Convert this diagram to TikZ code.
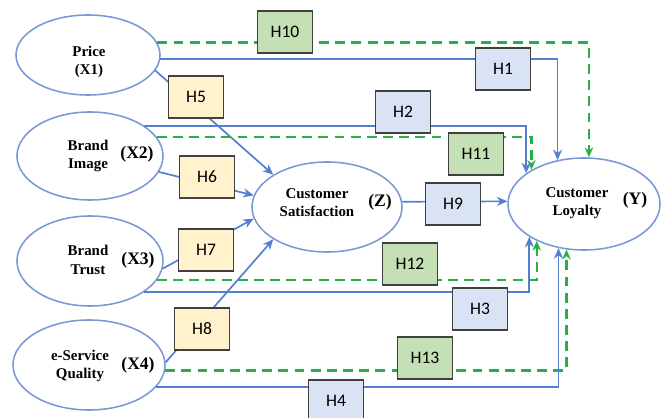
\documentclass[tikz,border=0pt]{standalone}
\usepackage{fontspec}
\setmainfont{Liberation Serif}
\newfontfamily\hypfont{Carlito}
\usetikzlibrary{shapes.geometric,arrows.meta}
\definecolor{ovalblue}{RGB}{120,152,214}
\definecolor{linkblue}{RGB}{84,127,208}
\definecolor{medgreen}{RGB}{38,176,72}
\definecolor{hypyellow}{RGB}{255,242,204}
\definecolor{hypblue}{RGB}{218,227,243}
\definecolor{hypgreen}{RGB}{197,224,180}
\definecolor{boxgray}{RGB}{64,64,64}
\tikzset{
  construct/.style={ellipse,draw=ovalblue,line width=1.1pt,inner sep=0pt},
  vname/.style={font=\bfseries\fontsize{10.6}{13}\selectfont,align=center,inner sep=0pt},
  vcode/.style={font=\bfseries\fontsize{12.5}{14}\selectfont,inner sep=0pt},
  hyp/.style={draw=boxgray,line width=1.1pt,minimum width=1.375cm,minimum height=1.05cm,
    font=\hypfont\fontsize{12.5}{14}\selectfont},
  direct/.style={draw=linkblue,line width=1.2pt,-{Stealth[length=7.5pt,width=6.5pt]}},
  mediated/.style={draw=medgreen,line width=1.8pt,dash pattern=on 7pt off 4.5pt,
    -{Stealth[length=7pt,width=6pt]}},
}
\begin{document}
\begin{tikzpicture}[x=0.025cm,y=-0.025cm]
        \useasboundingbox (0,0) rectangle (664,418);
        % variables
        \node[construct,minimum width=3.6cm,minimum height=2cm] (price) at (88,55) {};
        \node[construct,minimum width=3.65cm,minimum height=2.2cm] (image) at (90,156) {};
        \node[construct,minimum width=3.65cm,minimum height=2.25cm] (trust) at (90,261) {};
        \node[construct,minimum width=3.8cm,minimum height=2.25cm] (eserv) at (89,365) {};
        \node[construct,minimum width=3.75cm,minimum height=2.25cm] (satisf) at (327,207) {};
        \node[construct,minimum width=3.8cm,minimum height=2.3cm] (loyalty) at (584,204) {};
        \node[vname] (pricetxt) at (89,62) {Price\\(X1)};
        \node[vname] (imagetxt) at (88,156) {Brand\\Image};
        \node[vcode] (imagecode) at (137,154) {(X2)};
        \node[vname] (trusttxt) at (88,260) {Brand\\Trust};
        \node[vcode] (trustcode) at (138,260) {(X3)};
        \node[vname] (eservtxt) at (80,366) {e-Service\\Quality};
        \node[vcode] (eservcode) at (138,365) {(X4)};
        \node[vname] (satisftxt) at (317,203) {Customer\\Satisfaction};
        \node[vcode] (satisfcode) at (380,202) {(Z)};
        \node[vname] (loyaltytxt) at (577,203) {Customer\\Loyalty};
        \node[vcode] (loyaltycode) at (635,200) {(Y)};
        % paths
        \draw[mediated] (price.10) -| (loyalty.84);
        \draw[direct] (price.-3) -| (loyalty.121);
        \draw[direct] (price.-13) -- (satisf.149);
        \draw[direct] (image.29) -| (loyalty.152);
        \draw[mediated] (image.16) -| (loyalty.147);
        \draw[direct] (image.-13) -- (satisf.171);
        \draw[direct] (satisf.4) -- (loyalty.178);
        \draw[direct] (trust.-6) -- (satisf.189);
        \draw[mediated] (trust.-16) -| (loyalty.218);
        \draw[direct] (trust.-30) -| (loyalty.211);
        \draw[direct] (eserv.2) -- (satisf.211);
        \draw[mediated] (eserv.-4) -| (loyalty.249);
        \draw[direct] (eserv.-18) -| (loyalty.240);
        % hypotheses
        \node[hyp,fill=hypgreen] (h10) at (285,32) {H10};
        \node[hyp,fill=hypblue] (h1) at (503,69) {H1};
        \node[hyp,fill=hypyellow] (h5) at (196,97) {H5};
        \node[hyp,fill=hypblue] (h2) at (403,112) {H2};
        \node[hyp,fill=hypgreen] (h11) at (476,154) {H11};
        \node[hyp,fill=hypyellow] (h6) at (207,177) {H6};
        \node[hyp,fill=hypblue] (h9) at (453,204) {H9};
        \node[hyp,fill=hypyellow] (h7) at (206,250) {H7};
        \node[hyp,fill=hypgreen] (h12) at (410,264) {H12};
        \node[hyp,fill=hypblue] (h3) at (480,309) {H3};
        \node[hyp,fill=hypyellow] (h8) at (202,329) {H8};
        \node[hyp,fill=hypgreen] (h13) at (425,358) {H13};
        \node[hyp,fill=hypblue] (h4) at (336,401) {H4};
      \end{tikzpicture}
\end{document}
